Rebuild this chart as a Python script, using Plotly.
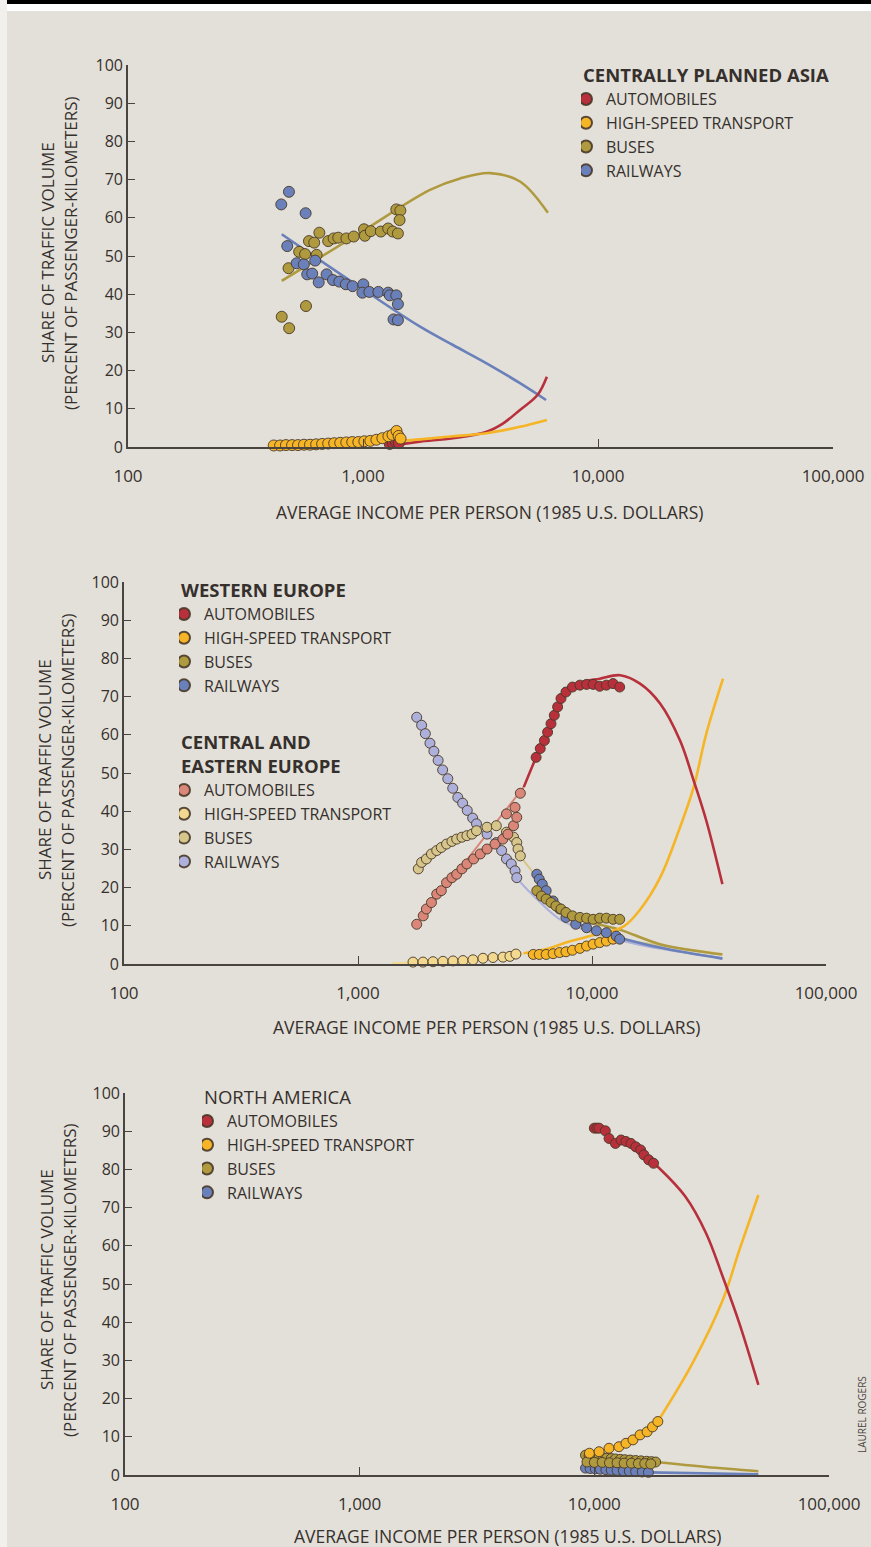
import plotly.graph_objects as go

W, H = 871, 1547
FONT = "Open Sans"
INK = "#36302d"
PAPER = "#e3e0d9"

# series colours
AUTO, HSPD, BUS, RAIL = "#b7303b", "#f5b526", "#b09a3f", "#6a80ba"
AUTO_CE, HSPD_CE, BUS_CE, RAIL_CE = "#da8679", "#f2d98f", "#d6c68c", "#acb0da"
EDGE = "rgba(72,56,40,0.9)"

X_TICKS = [100, 1000, 10000, 100000]
X_TICKTEXT = ["100", "1,000", "10,000", "100,000"]
Y_TICKS = list(range(0, 101, 10))

# ---------------- Centrally planned Asia ----------------
cpa_auto_inc = [1300, 1340, 1380, 1420]
cpa_auto_pts = [0.8, 1.1, 1.3, 1.0]
cpa_hs_inc = [417, 444, 470, 499, 529, 561, 595, 632, 670, 711, 754, 800, 849,
              900, 955, 1013, 1074, 1140, 1209, 1283, 1335, 1389, 1417, 1445]
cpa_hs_pts = [0.4, 0.4, 0.5, 0.5, 0.5, 0.6, 0.6, 0.7, 0.8, 0.9, 1.0, 1.1, 1.2,
              1.3, 1.3, 1.5, 1.6, 1.9, 2.3, 2.8, 3.2, 4.2, 2.9, 2.2]
cpa_bus_inc = [451, 485, 482, 535, 567, 572, 589, 620, 652, 635, 711, 750, 785,
               850, 913, 1010, 1019, 1079, 1191, 1280, 1338, 1408, 1386, 1442, 1431]
cpa_bus_pts = [34.1, 31.1, 46.8, 51.1, 50.5, 36.9, 53.9, 53.5, 56.1, 50.3, 53.9,
               54.6, 54.8, 54.6, 55.1, 57.0, 55.3, 56.5, 56.4, 57.2, 56.4, 55.9,
               62.2, 61.9, 59.4]
cpa_rail_inc = [484, 449, 570, 476, 522, 560, 626, 579, 608, 648, 700, 745, 793,
                845, 903, 1003, 994, 1064, 1163, 1280, 1300, 1386, 1408, 1349, 1408]
cpa_rail_pts = [66.8, 63.5, 61.2, 52.6, 48.1, 47.8, 48.8, 45.2, 45.4, 43.1, 45.2,
                43.7, 43.3, 42.6, 42.1, 42.6, 40.4, 40.6, 40.6, 40.4, 39.7, 39.7,
                37.4, 33.4, 33.2]
cpa_auto_fit_inc = [1420, 1750, 2415, 3357, 3950, 4656, 5525, 6060]
cpa_auto_fit = [0.6, 1.4, 2.3, 4.0, 6.2, 9.7, 13.6, 18.4]
cpa_hs_fit_inc = [1445, 1750, 2415, 3357, 4656, 6060]
cpa_hs_fit = [1.6, 2.0, 2.8, 3.6, 5.3, 7.1]
cpa_bus_fit_inc = [451, 940, 1928, 2590, 3470, 4656, 6120]
cpa_bus_fit = [43.5, 55.5, 67.3, 70.3, 71.7, 69.5, 61.3]
cpa_rail_fit_inc = [451, 940, 1750, 2415, 3357, 4656, 6010]
cpa_rail_fit = [55.7, 42.4, 31.5, 26.7, 21.9, 16.7, 12.3]

# ---------------- Western Europe ----------------
we_auto_inc = [5770, 6010, 6260, 6460, 6680, 6900, 7130, 7370, 7740, 8250, 8880,
               9480, 10110, 10790, 11520, 12300, 13130]
we_auto_pts = [54.1, 56.4, 58.5, 60.7, 62.9, 65.1, 67.3, 69.5, 71.2, 72.5, 73.0,
               73.2, 73.2, 72.7, 73.0, 73.4, 72.5]
we_hs_inc = [5610, 5950, 6370, 6820, 7270, 7740, 8250, 8880, 9480, 10110, 10790,
             11520, 12300]
we_hs_pts = [2.5, 2.5, 2.5, 2.7, 3.0, 3.2, 3.6, 4.1, 4.7, 5.2, 5.6, 6.0, 6.5]
we_bus_inc = [5810, 6080, 6370, 6680, 7010, 7370, 7740, 8250, 8880, 9480, 10110,
              10790, 11520, 12300, 13130]
we_bus_pts = [19.2, 17.8, 17.0, 16.1, 15.2, 14.4, 13.5, 12.6, 12.2, 12.0, 11.7,
              12.0, 12.0, 11.7, 11.7]
we_rail_inc = [5810, 5950, 6130, 6370, 6820, 7270, 7740, 8520, 9480, 10450, 11520,
               12690, 13130]
we_rail_pts = [23.5, 22.2, 20.9, 19.2, 16.5, 14.4, 12.2, 10.4, 9.5, 8.7, 8.2, 7.3, 6.5]
we_auto_fit_inc = [5110, 5770, 6460, 7370, 8880, 10790, 13190, 16040, 19540,
                   23780, 27200, 30800, 36080]
we_auto_fit = [46.3, 54.1, 60.7, 69.5, 73.5, 74.7, 75.6, 73.4, 68.2, 58.5, 48.0,
               37.5, 20.9]
we_hs_fit_inc = [5110, 6460, 7740, 10110, 13620, 16040, 19540, 23780, 27200,
                 30800, 36300]
we_hs_fit = [2.8, 4.0, 5.6, 7.5, 9.8, 14.2, 22.6, 35.8, 46.3, 60.3, 74.7]
we_bus_fit_inc = [5810, 7370, 10110, 13130, 19540, 36080]
we_bus_fit = [19.0, 14.0, 10.8, 9.0, 5.2, 2.5]
we_rail_fit_inc = [5810, 7270, 9480, 13130, 19540, 36080]
we_rail_fit = [23.5, 14.4, 9.5, 6.9, 4.3, 1.4]

# ---------------- Central and Eastern Europe ----------------
ce_auto_inc = [1782, 1900, 1960, 2060, 2170, 2270, 2390, 2520, 2640, 2780, 2920,
               3120, 3330, 3560, 3850, 4160, 4370, 4310, 4620, 4690, 4770, 4940]
ce_auto_pts = [10.4, 12.6, 14.4, 16.1, 18.3, 19.2, 21.3, 22.6, 23.5, 24.9, 26.2,
               27.5, 28.8, 30.1, 31.4, 32.7, 34.0, 39.3, 36.2, 41.0, 38.4, 44.7]
ce_hs_inc = [1718, 1896, 2092, 2308, 2547, 2810, 3100, 3421, 3775, 4165, 4460, 4730]
ce_hs_pts = [0.5, 0.5, 0.6, 0.7, 0.8, 0.9, 1.1, 1.5, 1.7, 1.8, 2.0, 2.6]
ce_bus_inc = [1810, 1870, 1960, 2060, 2170, 2270, 2390, 2520, 2640, 2780, 2920,
              3070, 3210, 3560, 3900, 4310, 4620, 4770, 4830, 4940]
ce_bus_pts = [24.9, 26.6, 27.5, 28.8, 29.7, 30.5, 31.4, 32.1, 32.7, 33.2, 33.6,
              34.0, 34.9, 35.8, 36.2, 34.5, 33.2, 31.8, 30.1, 28.3]
ce_rail_inc = [1782, 1870, 1940, 2030, 2110, 2200, 2300, 2420, 2540, 2670, 2800,
               2930, 3090, 3210, 3560, 3900, 4110, 4310, 4520, 4690, 4770]
ce_rail_pts = [64.6, 62.5, 60.3, 57.8, 55.7, 53.3, 50.8, 48.5, 46.0, 43.6, 42.1,
               40.2, 38.2, 36.7, 34.0, 31.8, 29.7, 27.5, 26.2, 24.4, 22.6]
ce_auto_fit_inc = [1782, 3000, 4200, 5110]
ce_auto_fit = [10.4, 28.2, 39.7, 46.3]
ce_hs_fit_inc = [1400, 2000, 3000, 4165, 5110]
ce_hs_fit = [0.2, 0.5, 0.9, 1.7, 2.8]
ce_bus_fit_inc = [1810, 2600, 3560, 4310, 4940, 5810, 7010, 8880, 12300, 16040, 36080]
ce_bus_fit = [24.9, 32.5, 35.8, 34.5, 28.3, 22.6, 14.8, 9.5, 6.5, 5.6, 2.6]
ce_rail_fit_inc = [1782, 2420, 3210, 4110, 4770, 5810, 7370, 10450, 16040, 36080]
ce_rail_fit = [64.6, 48.5, 36.7, 29.7, 22.6, 17.0, 11.5, 8.0, 5.0, 1.6]

# ---------------- North America ----------------
na_auto_inc = [10000, 10250, 10480, 11140, 11550, 12300, 13000, 13640, 14320,
               15020, 15750, 16260, 17050, 17880]
na_auto_pts = [90.8, 90.8, 90.8, 90.1, 88.1, 86.8, 87.7, 87.3, 86.8, 85.9, 85.1,
               83.8, 82.5, 81.6]
na_hs_inc = [9530, 10480, 11550, 12730, 13640, 14610, 15660, 16780, 17700, 18650]
na_hs_pts = [5.7, 6.1, 7.0, 7.4, 8.3, 9.2, 10.5, 11.3, 12.6, 14.0]
na_bus_inc = [9170, 9500, 9800, 10150, 10480, 10900, 11300, 11800, 12300, 12900,
              13500, 14200, 15000, 15800, 16700, 17500, 18250,
              9300, 10000, 10800, 11600, 12500, 13400, 14400, 15400, 16400, 17400]
na_bus_pts = [5.2, 5.0, 4.8, 4.7, 4.6, 4.5, 4.4, 4.3, 4.2, 4.1, 4.0, 3.9, 3.8,
              3.7, 3.6, 3.5, 3.4,
              3.4, 3.3, 3.3, 3.2, 3.2, 3.1, 3.1, 3.0, 3.0, 2.9]
na_rail_inc = [9170, 9600, 10100, 10600, 11200, 11800, 12500, 13300, 14100,
               15000, 16000, 17000]
na_rail_pts = [1.8, 1.7, 1.6, 1.5, 1.4, 1.3, 1.2, 1.1, 1.0, 0.9, 0.8, 0.7]
na_auto_fit_inc = [17880, 18920, 24420, 29930, 35260, 41500, 50000]
na_auto_fit = [81.6, 80.3, 72.9, 63.3, 51.9, 39.7, 23.6]
na_hs_fit_inc = [18650, 26180, 35260, 41500, 50000]
na_hs_fit = [14.0, 29.2, 45.8, 58.9, 73.3]
na_bus_fit_inc = [18250, 30000, 50000]
na_bus_fit = [3.4, 2.1, 1.0]
na_rail_fit_inc = [17000, 50000]
na_rail_fit = [0.7, 0.2]

NAMES = ["AUTOMOBILES", "HIGH-SPEED TRANSPORT", "BUSES", "RAILWAYS"]

# panel frames in pixels: (x_left, x_right, y_top(100), y_bottom(0))
PANELS = [(128, 833, 65, 447), (124, 826, 582, 964), (125, 829, 1093, 1475)]


def px(x):
    return x / W


def py(y):
    return 1 - y / H


fig = go.Figure()


def add_fit(k, inc, val, color, width=2.6):
    fig.add_trace(go.Scatter(
        x=inc, y=val, mode="lines", line=dict(color=color, width=width, shape="spline"),
        xaxis=f"x{k}", yaxis=f"y{k}", showlegend=False, hoverinfo="skip",
        cliponaxis=False))


def add_pts(k, inc, val, color, name, legend, rank, size=10):
    fig.add_trace(go.Scatter(
        x=inc, y=val, mode="markers", name=name, legend=legend, legendrank=rank,
        marker=dict(size=size, color=color, line=dict(color=EDGE, width=1)),
        xaxis=f"x{k}", yaxis=f"y{k}", cliponaxis=False))


# Centrally planned Asia
add_fit(1, cpa_bus_fit_inc, cpa_bus_fit, BUS)
add_fit(1, cpa_rail_fit_inc, cpa_rail_fit, RAIL)
add_fit(1, cpa_auto_fit_inc, cpa_auto_fit, AUTO)
add_fit(1, cpa_hs_fit_inc, cpa_hs_fit, HSPD)
add_pts(1, cpa_auto_inc, cpa_auto_pts, AUTO, NAMES[0], "legend", 1, 11)
add_pts(1, cpa_hs_inc, cpa_hs_pts, HSPD, NAMES[1], "legend", 2, 11)
add_pts(1, cpa_bus_inc, cpa_bus_pts, BUS, NAMES[2], "legend", 3, 11)
add_pts(1, cpa_rail_inc, cpa_rail_pts, RAIL, NAMES[3], "legend", 4, 11)

# Europe
add_fit(2, ce_hs_fit_inc, ce_hs_fit, HSPD_CE, 2)
add_fit(2, ce_bus_fit_inc, ce_bus_fit, BUS_CE, 2)
add_fit(2, ce_rail_fit_inc, ce_rail_fit, RAIL_CE, 2)
add_fit(2, ce_auto_fit_inc, ce_auto_fit, AUTO_CE, 2)
add_fit(2, we_bus_fit_inc, we_bus_fit, BUS)
add_fit(2, we_rail_fit_inc, we_rail_fit, RAIL)
add_fit(2, we_hs_fit_inc, we_hs_fit, HSPD)
add_fit(2, we_auto_fit_inc, we_auto_fit, AUTO)
add_pts(2, ce_hs_inc, ce_hs_pts, HSPD_CE, NAMES[1], "legend3", 2)
add_pts(2, ce_rail_inc, ce_rail_pts, RAIL_CE, NAMES[3], "legend3", 4)
add_pts(2, ce_bus_inc, ce_bus_pts, BUS_CE, NAMES[2], "legend3", 3)
add_pts(2, ce_auto_inc, ce_auto_pts, AUTO_CE, NAMES[0], "legend3", 1)
add_pts(2, we_hs_inc, we_hs_pts, HSPD, NAMES[1], "legend2", 2)
add_pts(2, we_rail_inc, we_rail_pts, RAIL, NAMES[3], "legend2", 4)
add_pts(2, we_bus_inc, we_bus_pts, BUS, NAMES[2], "legend2", 3)
add_pts(2, we_auto_inc, we_auto_pts, AUTO, NAMES[0], "legend2", 1)

# North America
add_fit(3, na_rail_fit_inc, na_rail_fit, RAIL)
add_fit(3, na_bus_fit_inc, na_bus_fit, BUS)
add_fit(3, na_hs_fit_inc, na_hs_fit, HSPD)
add_fit(3, na_auto_fit_inc, na_auto_fit, AUTO)
add_pts(3, na_rail_inc, na_rail_pts, RAIL, NAMES[3], "legend4", 4)
add_pts(3, na_bus_inc, na_bus_pts, BUS, NAMES[2], "legend4", 3)
add_pts(3, na_hs_inc, na_hs_pts, HSPD, NAMES[1], "legend4", 2)
add_pts(3, na_auto_inc, na_auto_pts, AUTO, NAMES[0], "legend4", 1)

layout = dict(
    width=W, height=H,
    margin=dict(l=0, r=0, t=0, b=0, pad=0, autoexpand=False),
    paper_bgcolor=PAPER, plot_bgcolor="rgba(0,0,0,0)",
    font=dict(family=FONT, color=INK), showlegend=True,
)

axis_font = dict(family=FONT, size=16, color=INK)
xtick_font = dict(family=FONT, size=17, color=INK)
for i, (xl, xr, yt, yb) in enumerate(PANELS, start=1):
    sfx = "" if i == 1 else str(i)
    layout[f"xaxis{sfx}"] = dict(
        type="log", range=[2, 5], domain=[px(xl), px(xr)], anchor=f"y{sfx}",
        tickvals=X_TICKS, ticktext=X_TICKTEXT, ticks="inside", ticklen=8,
        tickwidth=1.3, tickcolor="#4a4440", showline=True, linecolor="#4a4440",
        linewidth=1.6, showgrid=False, zeroline=False, tickfont=xtick_font,
        ticklabelstandoff=13, automargin=False, fixedrange=True)
    layout[f"yaxis{sfx}"] = dict(
        range=[0, 100], domain=[py(yb), py(yt)], anchor=f"x{sfx}",
        tickvals=Y_TICKS, ticks="inside", ticklen=7, tickwidth=1.3,
        tickcolor="#4a4440", showline=True, linecolor="#4a4440", linewidth=1.6,
        showgrid=False, zeroline=False, tickfont=axis_font, automargin=False,
        fixedrange=True)

leg_font = dict(family=FONT, size=16, color=INK)
head_font = dict(family=FONT, size=18.5, color=INK)
common = dict(xanchor="left", yanchor="top", bgcolor="rgba(0,0,0,0)",
              itemsizing="constant", font=leg_font, traceorder="normal",
              indentation=-15, itemclick=False, itemdoubleclick=False)
layout["legend"] = dict(common, x=px(581), y=py(58), title=dict(
    text="<b>CENTRALLY PLANNED ASIA</b>", font=head_font))
layout["legend2"] = dict(common, x=px(179), y=py(573), title=dict(
    text="<b>WESTERN EUROPE</b>", font=head_font))
layout["legend3"] = dict(common, x=px(179), y=py(725), title=dict(
    text="<b>CENTRAL AND<br>EASTERN EUROPE</b>", font=head_font))
layout["legend4"] = dict(common, x=px(202), y=py(1080), title=dict(
    text="NORTH AMERICA", font=head_font))

ann = []
title_font = dict(family=FONT, size=17, color=INK)
base = dict(showarrow=False, xref="paper", yref="paper",
            xanchor="center", yanchor="middle")
for (x1, x2, yc), (xt, yt) in zip(
        [(48, 71, 253), (44, 67, 770), (46, 69, 1280)],
        [(489, 512), (486, 1027), (507, 1536)]):
    ann.append(dict(base, x=px(x1), y=py(yc), text="SHARE OF TRAFFIC VOLUME",
                    textangle=-90, font=title_font))
    ann.append(dict(base, x=px(x2), y=py(yc), text="(PERCENT OF PASSENGER-KILOMETERS)",
                    textangle=-90, font=title_font))
    ann.append(dict(base, x=px(xt), y=py(yt),
                    text="AVERAGE INCOME PER PERSON (1985 U.S. DOLLARS)",
                    font=dict(family=FONT, size=17.5, color=INK)))
ann.append(dict(base, x=px(862), y=py(1415), text="LAUREL ROGERS", textangle=-90,
                font=dict(family=FONT, size=10, color="#4a4440")))
layout["annotations"] = ann

# page edge: black rule across the top and a pale gutter on the left
layout["shapes"] = [
    dict(type="rect", xref="paper", yref="paper", x0=0, x1=1, y0=py(11), y1=1,
         fillcolor="white", line_width=0, layer="below"),
    dict(type="rect", xref="paper", yref="paper", x0=0, x1=1, y0=py(4), y1=1,
         fillcolor="black", line_width=0, layer="below"),
    dict(type="rect", xref="paper", yref="paper", x0=0, x1=px(7), y0=0, y1=1,
         fillcolor="#f1f0ec", line_width=0, layer="below"),
]

fig.update_layout(**layout)
fig.write_html("out.html")
